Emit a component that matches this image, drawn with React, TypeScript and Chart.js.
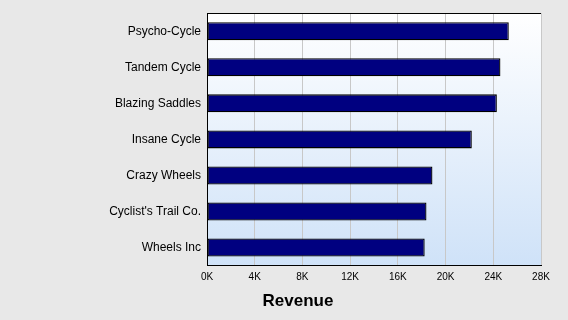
import React, { useEffect, useRef } from "react";
import { Chart, registerables } from "chart.js";

Chart.register(...registerables);

const categories = [
  "Psycho-Cycle",
  "Tandem Cycle",
  "Blazing Saddles",
  "Insane Cycle",
  "Crazy Wheels",
  "Cyclist's Trail Co.",
  "Wheels Inc",
];
const revenue = [25300, 24600, 24300, 22200, 18900, 18400, 18250];
const xTickValues = [0, 4000, 8000, 12000, 16000, 20000, 24000, 28000];
const axisTitle = "Revenue";

const plotBackground = {
  id: "plotBackground",
  beforeDraw(chart: any) {
    const { ctx, chartArea } = chart;
    if (!chartArea) return;
    const g = ctx.createLinearGradient(0, chartArea.top, 0, chartArea.bottom);
    g.addColorStop(0, "#ffffff");
    g.addColorStop(1, "#cfe2f8");
    ctx.save();
    ctx.fillStyle = g;
    ctx.fillRect(chartArea.left, chartArea.top, chartArea.right - chartArea.left, chartArea.bottom - chartArea.top);
    ctx.restore();
  },
  afterDraw(chart: any) {
    const { ctx, chartArea } = chart;
    ctx.save();
    ctx.strokeStyle = "#000000";
    ctx.lineWidth = 1;
    ctx.beginPath();
    ctx.moveTo(chartArea.left, Math.round(chartArea.top) + 0.5);
    ctx.lineTo(chartArea.right, Math.round(chartArea.top) + 0.5);
    ctx.stroke();
    ctx.restore();
  },
};

export default function App() {
  const ref = useRef<HTMLCanvasElement | null>(null);

  useEffect(() => {
    document.body.style.margin = "0";
    const canvas = ref.current;
    if (!canvas) return;
    const chart = new Chart(canvas, {
      type: "bar",
      data: {
        labels: categories,
        datasets: [
          {
            data: revenue,
            backgroundColor: "#000080",
            borderColor: "#000000",
            borderWidth: 1.3,
            borderSkipped: false,
            categoryPercentage: 1,
            barPercentage: 0.5,
          },
        ],
      },
      options: {
        indexAxis: "y",
        animation: false,
        responsive: false,
        maintainAspectRatio: false,
        layout: { padding: { left: 55, right: 27, top: 11, bottom: 0 } },
        plugins: {
          legend: { display: false },
          tooltip: { enabled: false },
          title: {
            display: true,
            text: axisTitle,
            position: "bottom",
            color: "#000000",
            font: { family: "Arial, 'Liberation Sans'", size: 17, weight: "bold" },
            padding: { top: 2, bottom: 8 },
          },
        },
        scales: {
          x: {
            min: 0,
            max: 28000,
            afterBuildTicks: (scale: any) => {
              scale.ticks = xTickValues.map((v) => ({ value: v }));
            },
            ticks: {
              color: "#000000",
              padding: 6,
              maxRotation: 0,
              font: { family: "Arial, 'Liberation Sans'", size: 10 },
              callback: (v: any) => `${Number(v) / 1000}K`,
            },
            grid: { color: "#c8c8c8", lineWidth: 1, drawTicks: false },
            border: { display: true, color: "#000000", width: 1 },
          },
          y: {
            afterFit: (scale: any) => {
              scale.width = 152;
            },
            ticks: {
              color: "#000000",
              padding: 6,
              font: { family: "Arial, 'Liberation Sans'", size: 12 },
            },
            grid: { display: false, drawTicks: false },
            border: { display: true, color: "#000000", width: 1 },
          },
        },
      },
      plugins: [plotBackground],
    });
    return () => chart.destroy();
  }, []);

  return (
    <div style={{ width: 568, height: 320, background: "#e8e8e8" }}>
      <canvas ref={ref} width={568} height={320} style={{ display: "block" }} />
    </div>
  );
}
